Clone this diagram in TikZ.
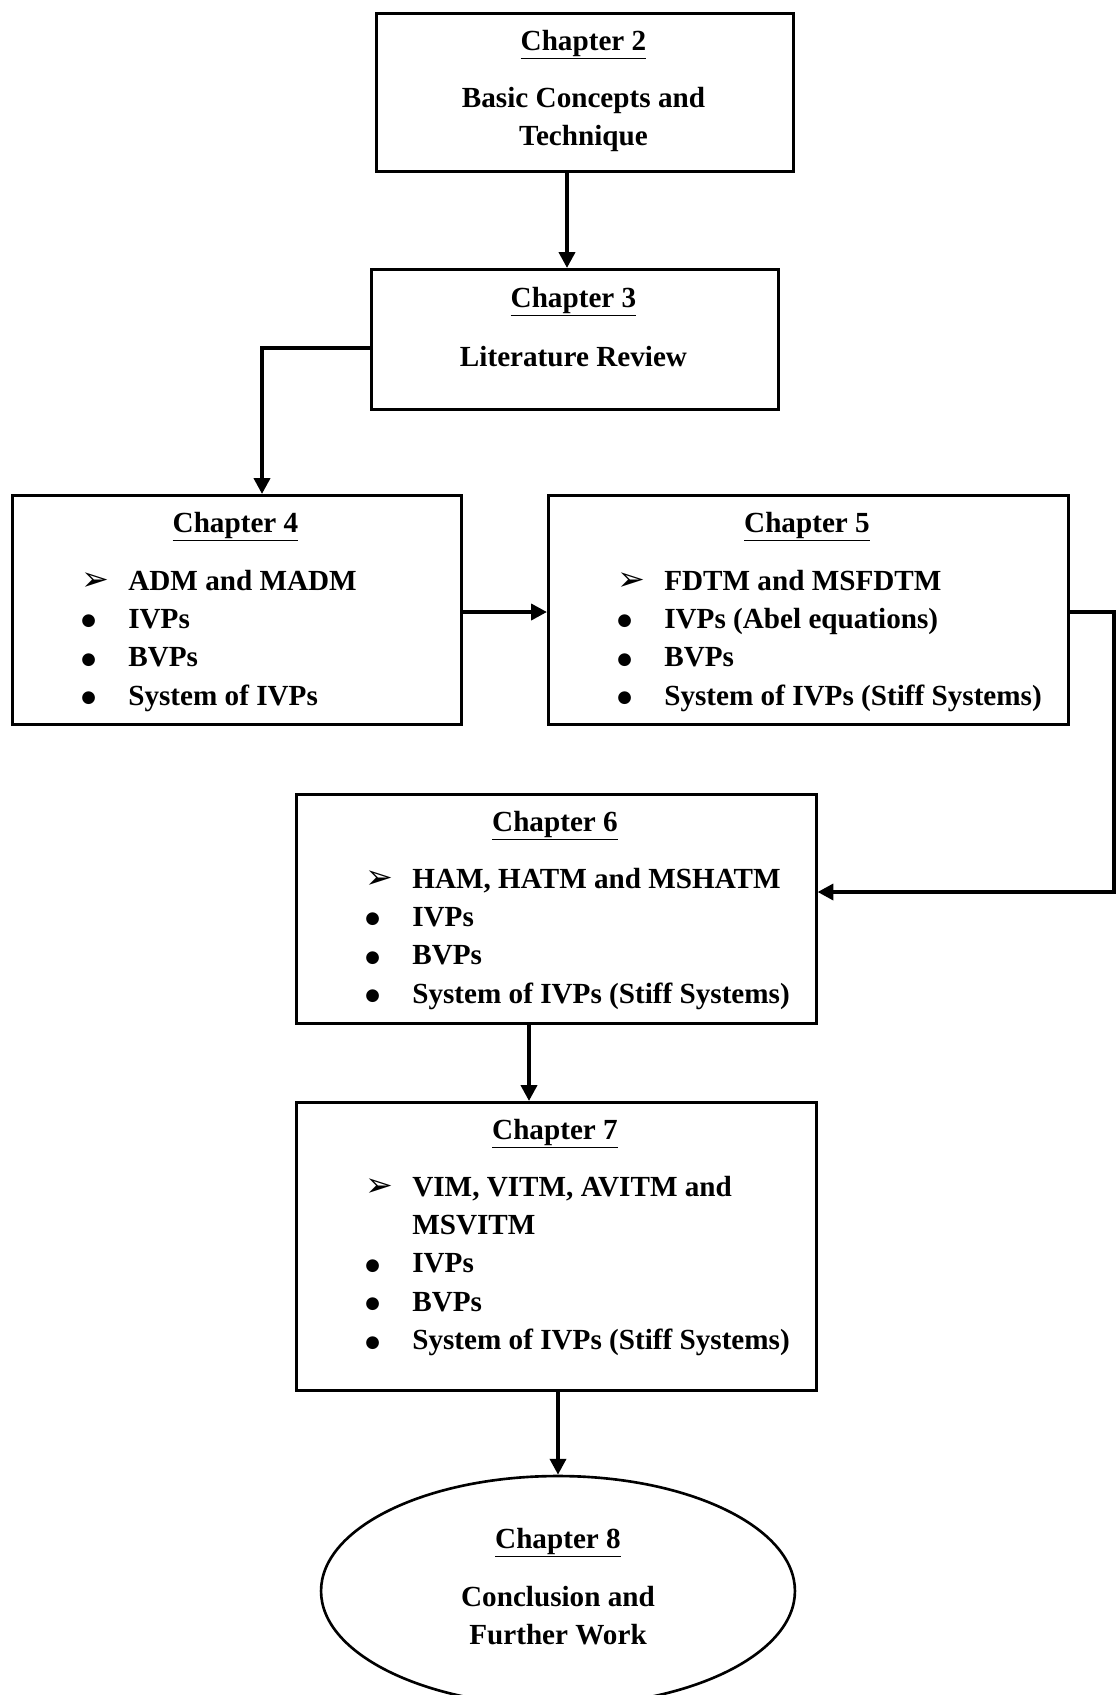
\documentclass[tikz,border=0pt]{standalone}
\usepackage{fontspec}
\setmainfont{Liberation Serif}
\newfontfamily\dingfont{DejaVu Sans}
\usetikzlibrary{shapes.geometric,arrows.meta}
\newcommand{\arrb}{{\dingfont\fontsize{19}{19}\selectfont\raisebox{-0.5pt}{➢}}}
\newcommand{\dotb}{{\dingfont\fontsize{9.5}{9.5}\selectfont\raisebox{1.5pt}{●}}}
\tikzset{chapbox/.style={draw,line width=1.5pt,anchor=north west,inner sep=0pt},
  chapend/.style={ellipse,draw,line width=1.5pt,inner sep=0pt},
  chaptitle/.style={anchor=base,inner sep=0pt},
  chaplist/.style={anchor=base west,inner sep=0pt},
  flow/.style={-{Triangle[length=9pt,width=9pt]},line width=2.2pt}}

\begin{document}
\begin{tikzpicture}[x=0.02cm,y=-0.02cm,font=\fontsize{16.6}{21.9}\selectfont\bfseries]
    \useasboundingbox (0,0) rectangle (1117,1695);

    \node[chapbox,minimum width=8.34cm,minimum height=3.16cm] (c2) at (375,12) {};
    \node[chapbox,minimum width=8.14cm,minimum height=2.8cm] (c3) at (370,268) {};
    \node[chapbox,minimum width=8.98cm,minimum height=4.58cm] (c4) at (11,494) {};
    \node[chapbox,minimum width=10.4cm,minimum height=4.58cm] (c5) at (547,494) {};
    \node[chapbox,minimum width=10.4cm,minimum height=4.58cm] (c6) at (295,793) {};
    \node[chapbox,minimum width=10.4cm,minimum height=5.76cm] (c7) at (295,1101) {};
    \node[chapend,minimum width=9.48cm,minimum height=4.6cm] (c8) at (558,1591) {};

    \node[chaptitle] (t2) at (583.5,50) {\underline{Chapter 2}};
    \node[chaptitle] (s2) at (583.5,107) {\begin{tabular}[t]{@{}c@{}}Basic Concepts and\\ Technique\end{tabular}};
    \node[chaptitle] (t3) at (573.5,307) {\underline{Chapter 3}};
    \node[chaptitle] (s3) at (573.5,366) {Literature Review};

    \node[chaptitle] (t4) at (235.5,532) {\underline{Chapter 4}};
    \node[chaplist] (l4) at (81,590) {\begin{tabular}[t]{@{}p{0.94cm}@{}l@{}}
        \arrb & ADM and MADM\\ \dotb & IVPs\\ \dotb & BVPs\\ \dotb & System of IVPs\end{tabular}};
    \node[chaptitle] (t5) at (807,532) {\underline{Chapter 5}};
    \node[chaplist] (l5) at (617,590) {\begin{tabular}[t]{@{}p{0.94cm}@{}l@{}}
        \arrb & FDTM and MSFDTM\\ \dotb & IVPs (Abel equations)\\ \dotb & BVPs\\ \dotb & System of IVPs (Stiff Systems)\end{tabular}};

    \node[chaptitle] (t6) at (555,831) {\underline{Chapter 6}};
    \node[chaplist] (l6) at (365,888) {\begin{tabular}[t]{@{}p{0.94cm}@{}l@{}}
        \arrb & HAM, HATM and MSHATM\\ \dotb & IVPs\\ \dotb & BVPs\\ \dotb & System of IVPs (Stiff Systems)\end{tabular}};
    \node[chaptitle] (t7) at (555,1139) {\underline{Chapter 7}};
    \node[chaplist] (l7) at (365,1196) {\begin{tabular}[t]{@{}p{0.94cm}@{}l@{}}
        \arrb & VIM, VITM, AVITM and\\ & MSVITM\\ \dotb & IVPs\\ \dotb & BVPs\\ \dotb & System of IVPs (Stiff Systems)\end{tabular}};

    \node[chaptitle] (t8) at (558,1548) {\underline{Chapter 8}};
    \node[chaptitle] (s8) at (558,1606) {\begin{tabular}[t]{@{}c@{}}Conclusion and\\ Further Work\end{tabular}};

    % connectors
    \coordinate (k23) at (567,0);
    \coordinate (k34) at (262,348);
    \coordinate (k45) at (0,612);
    \coordinate (k56) at (1114,892);
    \coordinate (k67) at (529,0);
    \draw [flow] (c2.south -| k23) -- (c3.north -| k23);
    \draw [flow] (c3.west |- k34) -| (c4.north -| k34);
    \draw [flow] (c4.east |- k45) -- (c5.west |- k45);
    \draw [flow] (c5.east |- k45) -| (k56) -- (c6.east |- k56);
    \draw [flow] (c6.south -| k67) -- (c7.north -| k67);
    \draw [flow] (c7.south -| c8.north) -- (c8.north);
\end{tikzpicture}
\end{document}
